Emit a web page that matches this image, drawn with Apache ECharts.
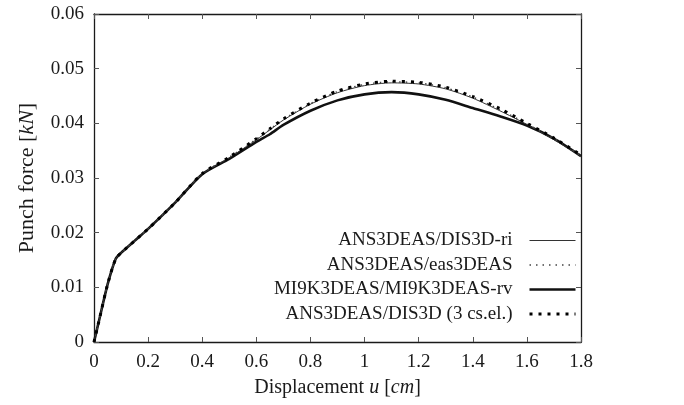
<!DOCTYPE html>
<html>
<head>
<meta charset="utf-8">
<script src="https://cdn.jsdelivr.net/npm/echarts@6/dist/echarts.min.js"></script>
<style>
  html, body { margin: 0; padding: 0; background: #fff; }
  #chart { width: 684px; height: 405px; }
</style>
</head>
<body>
<div id="chart"></div>
<script>
// displacement u [cm]
const disp = [0, 0.02, 0.05, 0.08, 0.1, 0.15, 0.2, 0.3, 0.4, 0.5, 0.6, 0.65, 0.7, 0.8, 0.9, 1.0, 1.1, 1.2, 1.3, 1.4, 1.5, 1.6, 1.7, 1.8]

// punch force [kN]
const ansRi = [0, 0.0042, 0.0105, 0.0152, 0.0163, 0.0185, 0.0207, 0.0255, 0.0307, 0.0337, 0.0370, 0.0388, 0.0406, 0.0435, 0.0456, 0.0469, 0.0474, 0.0472, 0.0463, 0.0446, 0.0423, 0.0398, 0.0370, 0.0340]
const ansEas = [0, 0.0042, 0.0106, 0.0152, 0.0163, 0.0185, 0.0207, 0.0256, 0.0308, 0.0338, 0.0371, 0.0389, 0.0407, 0.0436, 0.0458, 0.0471, 0.0476, 0.0474, 0.0465, 0.0448, 0.0425, 0.0399, 0.0372, 0.0341]
const miRv = [0, 0.0042, 0.0105, 0.0152, 0.0163, 0.0185, 0.0207, 0.0255, 0.0307, 0.0335, 0.0366, 0.0380, 0.0397, 0.0423, 0.0442, 0.0453, 0.0457, 0.0453, 0.0443, 0.0428, 0.0413, 0.0396, 0.0372, 0.0340]
const ans3cs = [0, 0.0042, 0.0105, 0.0152, 0.0163, 0.0185, 0.0207, 0.0255, 0.0308, 0.0338, 0.0372, 0.0390, 0.0408, 0.0437, 0.0459, 0.0472, 0.0477, 0.0475, 0.0466, 0.0449, 0.0427, 0.0400, 0.0373, 0.0342]

const xTicks = [0, 0.2, 0.4, 0.6, 0.8, 1, 1.2, 1.4, 1.6, 1.8]
const yTicks = [0, 0.01, 0.02, 0.03, 0.04, 0.05, 0.06]

const font = '"Liberation Serif", "DejaVu Serif", serif'
const ink = '#1a1a1a'

const pairs = ys => disp.map((u, i) => [u, ys[i]])

// line looks, shared by the curves and their legend keys
const styles = {
  'ANS3DEAS/DIS3D-ri': { color: '#333', width: 1, type: 'solid' },
  'ANS3DEAS/eas3DEAS': { color: '#444', width: 1.5, type: [1.5, 5] },
  'MI9K3DEAS/MI9K3DEAS-rv': { color: '#111', width: 2.6, type: 'solid' },
  'ANS3DEAS/DIS3D (3 cs.el.)': { color: '#000', width: 3, type: [3, 6] }
}

const chart = echarts.init(document.getElementById('chart'))

const baseX = {
  type: 'value',
  min: xTicks[0],
  max: xTicks[xTicks.length - 1],
  interval: 0.2,
  axisLine: { show: true, onZero: false, lineStyle: { color: ink, width: 1.3 } },
  axisTick: { show: true, inside: true, length: 5, lineStyle: { color: '#555' } },
  splitLine: { show: false }
}
const baseY = {
  type: 'value',
  min: yTicks[0],
  max: yTicks[yTicks.length - 1],
  interval: 0.01,
  axisLine: { show: true, onZero: false, lineStyle: { color: ink, width: 1.3 } },
  axisTick: { show: true, inside: true, length: 5, lineStyle: { color: '#555' } },
  splitLine: { show: false }
}

const rich = size => ({
  n: { fontFamily: font, fontSize: size, color: ink },
  i: { fontFamily: font, fontSize: size, fontStyle: 'italic', color: ink }
})

const makeSeries = (name, ys, z) => ({
  name: name,
  type: 'line',
  data: pairs(ys),
  showSymbol: false,
  symbol: 'none',
  smooth: 0.25,
  z: z,
  itemStyle: { color: styles[name].color },
  lineStyle: styles[name]
})

const option = {
  animation: false,
  backgroundColor: '#fff',
  textStyle: { fontFamily: font },
  grid: { left: 94, right: 103, top: 14, bottom: 63 },
  legend: {
    orient: 'vertical',
    right: 107,
    top: 231,
    padding: 0,
    align: 'right',
    itemWidth: 46,
    itemHeight: 10,
    itemGap: 5.5,
    itemStyle: { opacity: 0 },
    textStyle: { fontFamily: font, fontSize: 19, color: ink, padding: [0, 12, 0, 0] },
    data: Object.keys(styles).map(name => ({ name: name, lineStyle: styles[name] }))
  },
  xAxis: [
    Object.assign({}, baseX, {
      position: 'bottom',
      name: '{n|Displacement }{i|u}{n| [}{i|cm}{n|]}',
      nameLocation: 'middle',
      nameGap: 36,
      nameTextStyle: { rich: rich(20) },
      axisLabel: {
        margin: 11,
        fontFamily: font,
        fontSize: 19,
        color: ink,
        formatter: v => String(+v.toFixed(1))
      }
    }),
    Object.assign({}, baseX, { position: 'top', axisLabel: { show: false } })
  ],
  yAxis: [
    Object.assign({}, baseY, {
      position: 'left',
      name: '{n|Punch force [}{i|kN}{n|]}',
      nameLocation: 'middle',
      nameRotate: 90,
      nameGap: 56,
      nameTextStyle: { rich: rich(22) },
      axisLabel: {
        margin: 10,
        fontFamily: font,
        fontSize: 19,
        color: ink,
        formatter: v => (v === 0 ? '0' : v.toFixed(2))
      }
    }),
    Object.assign({}, baseY, { position: 'right', axisLabel: { show: false } })
  ],
  series: [
    makeSeries('MI9K3DEAS/MI9K3DEAS-rv', miRv, 3),
    makeSeries('ANS3DEAS/DIS3D-ri', ansRi, 4),
    makeSeries('ANS3DEAS/eas3DEAS', ansEas, 5),
    makeSeries('ANS3DEAS/DIS3D (3 cs.el.)', ans3cs, 6)
  ]
}

chart.setOption(option)
</script>
</body>
</html>
